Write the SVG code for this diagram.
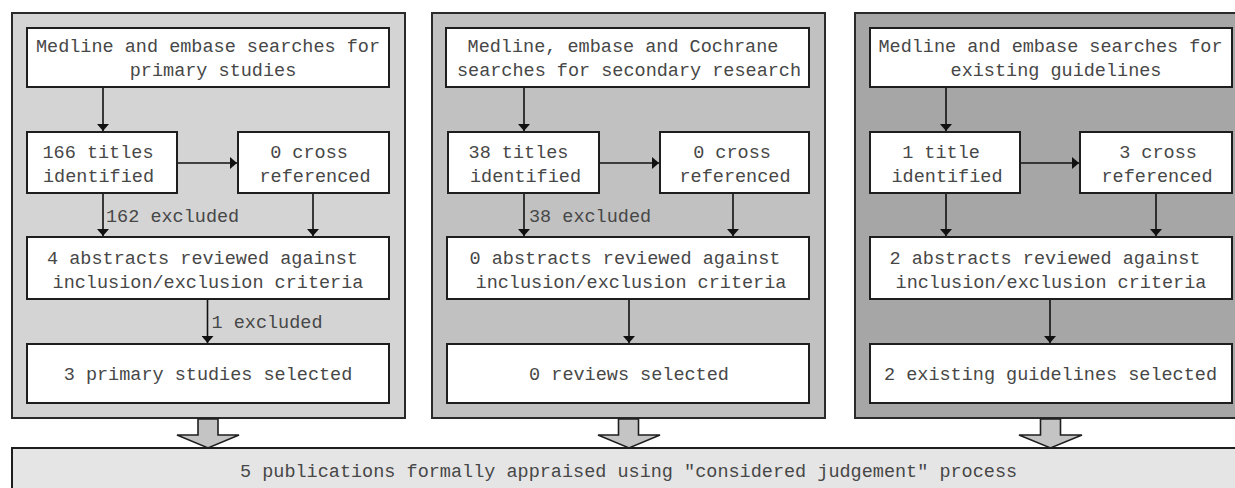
<svg xmlns="http://www.w3.org/2000/svg" width="1235" height="488" viewBox="0 0 1235 488">
  <defs>
    <marker id="head" viewBox="0 0 7 12" refX="7" refY="6" markerWidth="7" markerHeight="12" markerUnits="userSpaceOnUse" orient="auto">
      <path d="M0,0 L7,6 L0,12 z" fill="#111"/>
    </marker>
  </defs>
  <style>
    text { font-family: "Liberation Mono", "Courier New", monospace; font-size: 18.5px; fill: #474747; }
    .c { text-anchor: middle; }
    .panel { stroke: #2a2a2a; stroke-width: 2; }
    .p1 { fill: #d4d4d4; }
    .p2 { fill: #c1c1c1; }
    .p3 { fill: #a6a6a6; }
    .box { fill: #ffffff; stroke: #1e1e1e; stroke-width: 2; }
    .link { stroke: #111; stroke-width: 1.6; fill: none; marker-end: url(#head); }
    .bigarrow { fill: #c4c4c4; stroke: #1e1e1e; stroke-width: 1.6; stroke-linejoin: miter; }
    .summary { fill: #e5e5e5; stroke: #1e1e1e; stroke-width: 2; }
  </style>

  <!-- search panels -->
  <g id="panel-primary">
    <rect class="panel p1" x="12" y="13" width="393" height="405"/>
  </g>
  <g id="panel-secondary">
    <rect class="panel p2" x="432" y="13" width="393" height="405"/>
  </g>
  <g id="panel-guidelines">
    <rect class="panel p3" x="855" y="13" width="393" height="405"/>
  </g>

  <!-- summary box -->
  <g id="summary">
    <rect class="summary" x="12" y="448" width="1240" height="50"/>
    <text x="240" y="477">5 publications formally appraised using "considered judgement" process</text>
  </g>

  <!-- panel 1: primary studies -->
  <g id="p1-search">
    <rect class="box" x="27" y="28" width="362" height="59"/>
    <text class="c" x="208" y="52">Medline and embase searches for</text>
    <text class="c" x="213" y="76">primary studies</text>
  </g>
  <g id="p1-titles">
    <rect class="box" x="27" y="132" width="150" height="61"/>
    <text class="c" x="98" y="158">166 titles</text>
    <text class="c" x="98.5" y="182">identified</text>
  </g>
  <g id="p1-cross">
    <rect class="box" x="238" y="132" width="151" height="61"/>
    <text class="c" x="309" y="158">0 cross</text>
    <text class="c" x="315" y="182">referenced</text>
  </g>
  <g id="p1-abstracts">
    <rect class="box" x="27" y="237" width="362" height="62"/>
    <text class="c" x="202.5" y="264">4 abstracts reviewed against</text>
    <text class="c" x="208" y="288">inclusion/exclusion criteria</text>
  </g>
  <g id="p1-selected">
    <rect class="box" x="27" y="344" width="362" height="59"/>
    <text class="c" x="208" y="380">3 primary studies selected</text>
  </g>

  <!-- panel 2: secondary research -->
  <g id="p2-search">
    <rect class="box" x="446" y="28" width="363" height="59"/>
    <text class="c" x="623" y="52">Medline, embase and Cochrane</text>
    <text class="c" x="629" y="76">searches for secondary research</text>
  </g>
  <g id="p2-titles">
    <rect class="box" x="448" y="132" width="151" height="61"/>
    <text class="c" x="518.5" y="158">38 titles</text>
    <text class="c" x="525.5" y="182">identified</text>
  </g>
  <g id="p2-cross">
    <rect class="box" x="660" y="132" width="149" height="61"/>
    <text class="c" x="732" y="158">0 cross</text>
    <text class="c" x="735" y="182">referenced</text>
  </g>
  <g id="p2-abstracts">
    <rect class="box" x="447" y="237" width="362" height="62"/>
    <text class="c" x="625" y="264">0 abstracts reviewed against</text>
    <text class="c" x="631" y="288">inclusion/exclusion criteria</text>
  </g>
  <g id="p2-selected">
    <rect class="box" x="447" y="344" width="362" height="59"/>
    <text class="c" x="629" y="380">0 reviews selected</text>
  </g>

  <!-- panel 3: existing guidelines -->
  <g id="p3-search">
    <rect class="box" x="870" y="28" width="362" height="59"/>
    <text class="c" x="1050.5" y="52">Medline and embase searches for</text>
    <text class="c" x="1056" y="76">existing guidelines</text>
  </g>
  <g id="p3-titles">
    <rect class="box" x="870" y="132" width="150" height="61"/>
    <text class="c" x="941" y="158">1 title</text>
    <text class="c" x="947" y="182">identified</text>
  </g>
  <g id="p3-cross">
    <rect class="box" x="1080" y="132" width="152" height="61"/>
    <text class="c" x="1158" y="158">3 cross</text>
    <text class="c" x="1157" y="182">referenced</text>
  </g>
  <g id="p3-abstracts">
    <rect class="box" x="870" y="237" width="362" height="62"/>
    <text class="c" x="1045" y="264">2 abstracts reviewed against</text>
    <text class="c" x="1051" y="288">inclusion/exclusion criteria</text>
  </g>
  <g id="p3-selected">
    <rect class="box" x="870" y="344" width="362" height="59"/>
    <text class="c" x="1050.5" y="380">2 existing guidelines selected</text>
  </g>

  <!-- connectors -->
  <g id="connectors">
    <!-- panel 1 -->
    <line class="link" x1="103" y1="88" x2="103" y2="131"/>
    <line class="link" x1="178" y1="163" x2="237" y2="163"/>
    <line class="link" x1="103" y1="194" x2="103" y2="236"/>
    <line class="link" x1="313" y1="194" x2="313" y2="236"/>
    <line class="link" x1="207.5" y1="300" x2="207.5" y2="343"/>
    <text x="106" y="222">162 excluded</text>
    <text x="211.5" y="328">1 excluded</text>

    <!-- panel 2 -->
    <line class="link" x1="524" y1="88" x2="524" y2="131"/>
    <line class="link" x1="600" y1="163" x2="659" y2="163"/>
    <line class="link" x1="524" y1="194" x2="524" y2="236"/>
    <line class="link" x1="733" y1="194" x2="733" y2="236"/>
    <line class="link" x1="629" y1="300" x2="629" y2="343"/>
    <text x="529" y="222">38 excluded</text>

    <!-- panel 3 -->
    <line class="link" x1="946" y1="88" x2="946" y2="131"/>
    <line class="link" x1="1021" y1="163" x2="1079" y2="163"/>
    <line class="link" x1="946" y1="194" x2="946" y2="236"/>
    <line class="link" x1="1156" y1="194" x2="1156" y2="236"/>
    <line class="link" x1="1050" y1="300" x2="1050" y2="343"/>

    <!-- block arrows into the summary -->
    <path class="bigarrow" d="M198,419 L218,419 L218,435 L239,435 L208,448 L177,435 L198,435 z"/>
    <path class="bigarrow" d="M618.5,419 L638.5,419 L638.5,435 L660,435 L629,448 L598,435 L618.5,435 z"/>
    <path class="bigarrow" d="M1040.5,419 L1060.5,419 L1060.5,435 L1082,435 L1050.5,448 L1019,435 L1040.5,435 z"/>
  </g>
</svg>
